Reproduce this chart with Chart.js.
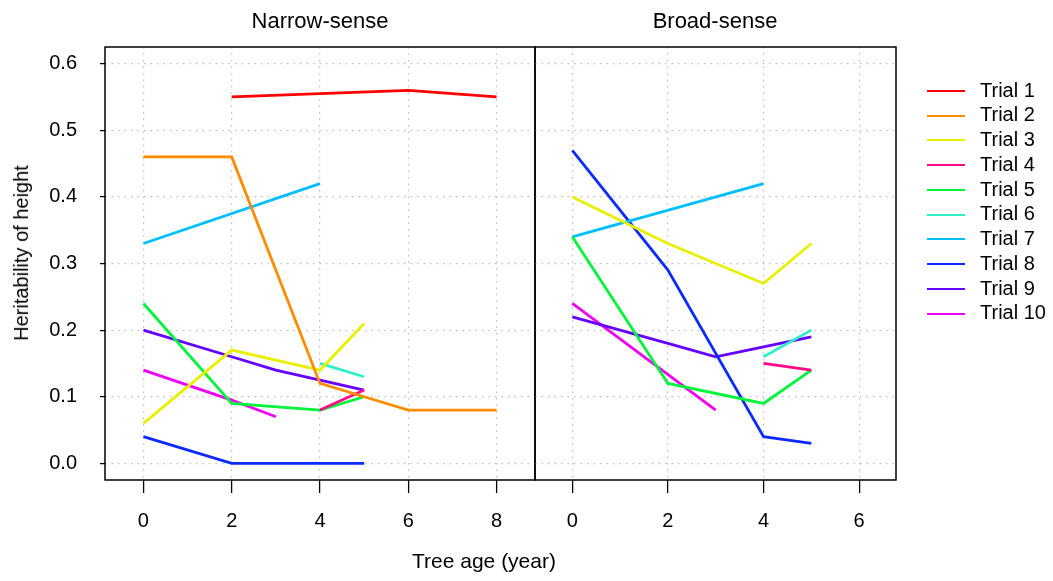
<!DOCTYPE html>
<html>
<head>
<meta charset="utf-8">
<script src="https://cdn.jsdelivr.net/npm/chart.js@4/dist/chart.umd.min.js"></script>
<style>
  html, body { margin: 0; padding: 0; background: #fff; }
  body { font-family: "Liberation Sans", Arial, Helvetica, sans-serif; color: #000; }
  #wrap { position: relative; width: 1053px; height: 581px; overflow: hidden; }
  canvas { position: absolute; top: 0; }
  .txt { position: absolute; white-space: nowrap; }
  .legend-line { position: absolute; height: 2px; width: 38px; left: 927px; }
  .legend-text { position: absolute; left: 980px; font-size: 20px; line-height: 20px; }
</style>
</head>
<body>
<div id="wrap">
  <canvas id="narrow" width="540" height="581" style="left:0"></canvas>
  <canvas id="broad" width="523" height="581" style="left:530px"></canvas>
  <div class="txt" style="left:320px; top:10px; font-size:22px; line-height:22px; transform:translateX(-50%)">Narrow-sense</div>
  <div class="txt" style="left:715px; top:10px; font-size:22px; line-height:22px; transform:translateX(-50%)">Broad-sense</div>
  <div class="txt" style="left:484px; top:550px; font-size:21px; line-height:21px; transform:translateX(-50%)">Tree age (year)</div>
  <div class="txt" style="left:21px; top:253px; font-size:20px; line-height:20px; transform:translate(-50%,-50%) rotate(-90deg)">Heritability of height</div>
  <div id="legend"></div>
</div>
<script>
// Trials and their line colours
const trialNames = ['Trial 1', 'Trial 2', 'Trial 3', 'Trial 4', 'Trial 5',
                    'Trial 6', 'Trial 7', 'Trial 8', 'Trial 9', 'Trial 10'];
const trialColors = ['#FF0000', '#FF8C00', '#E8F000', '#FF0A84', '#00F53A',
                     '#2EF0C8', '#00BFFF', '#0A2BFF', '#6600FF', '#F000F5'];

// Tree ages (years) and tick labels
const narrowAges = [0, 1, 2, 3, 4, 5, 6, 7, 8];
const broadAges = [0, 1, 2, 3, 4, 5, 6];
const narrowTicks = [0, 2, 4, 6, 8];
const broadTicks = [0, 2, 4, 6];
const heritTicks = [0, 0.1, 0.2, 0.3, 0.4, 0.5, 0.6];

// Narrow-sense heritability, one row per trial (null = not measured)
const narrowSense = [
  [null, null, 0.55, null, null, null, 0.56, null, 0.55],
  [0.46, null, 0.46, null, 0.12, 0.10, 0.08, null, 0.08],
  [0.06, null, 0.17, null, 0.14, 0.21, null, null, null],
  [null, null, null, null, 0.08, 0.11, null, null, null],
  [0.24, null, 0.09, null, 0.08, 0.10, null, null, null],
  [null, null, null, null, 0.15, 0.13, null, null, null],
  [0.33, null, null, null, 0.42, null, null, null, null],
  [0.04, null, 0.00, null, 0.00, 0.00, null, null, null],
  [0.20, null, 0.16, 0.14, 0.125, 0.11, null, null, null],
  [0.14, null, 0.095, 0.07, null, null, null, null, null]
];

// Broad-sense heritability, one row per trial
const broadSense = [
  [null, null, null, null, null, null, null],
  [null, null, null, null, null, null, null],
  [0.40, null, 0.33, null, 0.27, 0.33, null],
  [null, null, null, null, 0.15, 0.14, null],
  [0.34, null, 0.12, null, 0.09, 0.14, null],
  [null, null, null, null, 0.16, 0.20, null],
  [0.34, null, null, null, 0.42, null, null],
  [0.47, null, 0.29, null, 0.04, 0.03, null],
  [0.22, null, 0.18, 0.16, 0.175, 0.19, null],
  [0.24, null, null, 0.08, null, null, null]
];

const FONT = { family: '"Liberation Sans", Arial, Helvetica, sans-serif', size: 20 };

function makeDatasets(rows, ages) {
  return rows.map((row, i) => ({
    label: trialNames[i],
    borderColor: trialColors[i],
    backgroundColor: trialColors[i],
    data: ages.map((a, j) => ({ x: a, y: row[j] })).filter(p => p.y !== null)
  }));
}

// draws the black frame round each panel
const framePlugin = {
  id: 'frame',
  afterDatasetsDraw(chart) {
    const a = chart.chartArea;
    const ctx = chart.ctx;
    ctx.save();
    ctx.strokeStyle = '#000';
    ctx.lineWidth = 1.5;
    ctx.strokeRect(a.left, a.top, a.right - a.left, a.bottom - a.top);
    ctx.restore();
  }
};

function gridOpts(drawTicks, tickLength) {
  return {
    color: '#BEBEBE',
    lineWidth: 1.2,
    drawTicks: drawTicks,
    tickLength: tickLength,
    tickColor: '#000',
    tickWidth: 1.3,
    tickBorderDash: []
  };
}

function xScale(min, max, tickList) {
  return {
    type: 'linear',
    min: min,
    max: max,
    afterBuildTicks: s => { s.ticks = tickList.map(v => ({ value: v })); },
    afterFit: s => { s.height = 101; },
    grid: gridOpts(true, 13),
    border: { display: false, dash: [1.5, 5] },
    ticks: { color: '#000', font: FONT, padding: 16, autoSkip: false, maxRotation: 0,
             callback: v => String(v) }
  };
}

function yScale(showLabels) {
  return {
    type: 'linear',
    min: -0.025,
    max: 0.625,
    afterBuildTicks: s => { s.ticks = heritTicks.map(v => ({ value: v })); },
    afterFit: s => { s.width = showLabels ? 105 : 0; },
    grid: gridOpts(showLabels, 5),
    border: { display: false, dash: [1.5, 5] },
    ticks: { display: showLabels, color: '#000', font: FONT, padding: 23,
             callback: v => v.toFixed(1) }
  };
}

function baseOptions(padding) {
  return {
    responsive: false,
    animation: false,
    layout: { padding: padding },
    plugins: { legend: { display: false }, tooltip: { enabled: false }, title: { display: false } },
    elements: { point: { radius: 0 }, line: { borderWidth: 2.8, tension: 0 } }
  };
}

const narrowOpts = baseOptions({ top: 47, right: 5, bottom: 0, left: 0 });
narrowOpts.scales = { x: xScale(-0.87, 8.87, narrowTicks), y: yScale(true) };
new Chart(document.getElementById('narrow'), {
  type: 'line',
  data: { datasets: makeDatasets(narrowSense, narrowAges) },
  options: narrowOpts,
  plugins: [framePlugin]
});

const broadOpts = baseOptions({ top: 47, right: 157, bottom: 0, left: 5 });
broadOpts.scales = { x: xScale(-0.78, 6.77, broadTicks), y: yScale(false) };
new Chart(document.getElementById('broad'), {
  type: 'line',
  data: { datasets: makeDatasets(broadSense, broadAges) },
  options: broadOpts,
  plugins: [framePlugin]
});

// Legend
const legend = document.getElementById('legend');
trialNames.forEach((name, i) => {
  const y = 91 + 24.74 * i;
  const line = document.createElement('div');
  line.className = 'legend-line';
  line.style.top = Math.round(y - 1) + 'px';
  line.style.background = trialColors[i];
  legend.appendChild(line);
  const label = document.createElement('div');
  label.className = 'legend-text';
  label.style.top = Math.round(y - 11.25) + 'px';
  label.textContent = name;
  legend.appendChild(label);
});
</script>
</body>
</html>
